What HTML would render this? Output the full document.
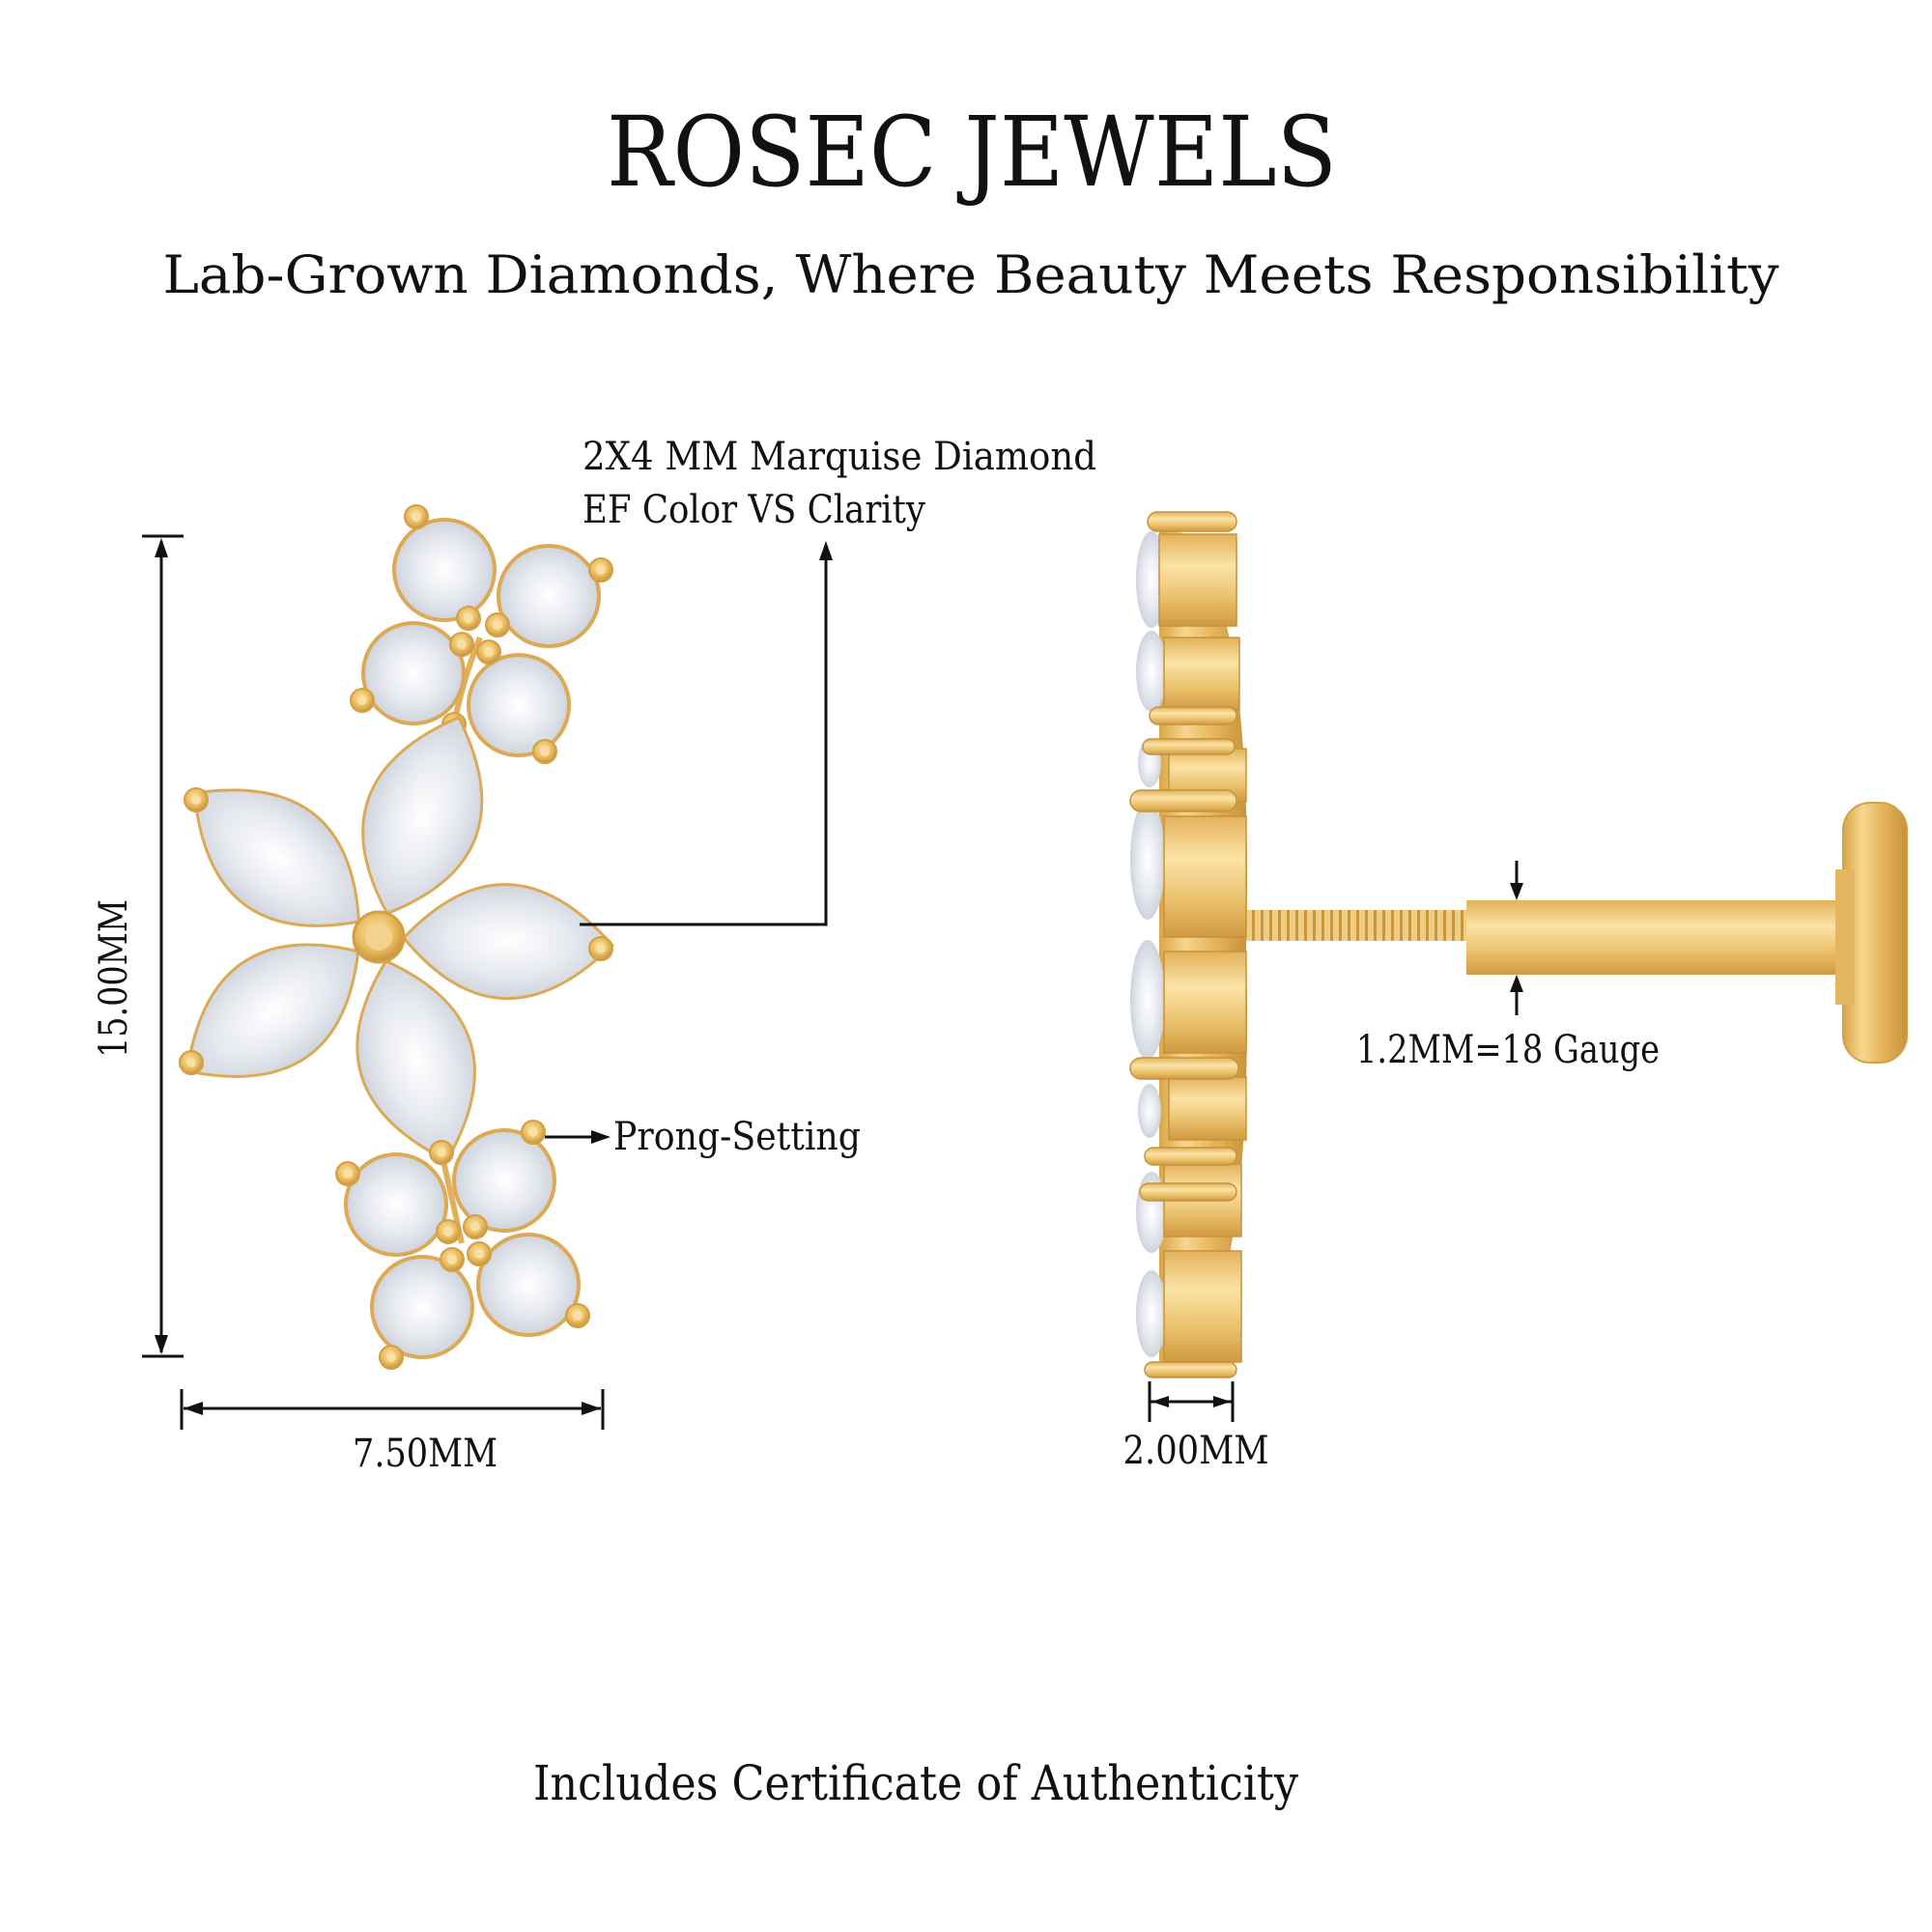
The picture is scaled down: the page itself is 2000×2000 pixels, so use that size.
<!DOCTYPE html>
<html><head><meta charset="utf-8"><style>
html,body{margin:0;padding:0;background:#fff;}
svg{display:block;}
text{font-family:"DejaVu Serif","Liberation Serif",serif;fill:#111;}
</style></head><body>
<svg width="2000" height="2000" viewBox="0 0 2000 2000" xmlns="http://www.w3.org/2000/svg">
<defs>
<radialGradient id="dia" cx="50%" cy="50%" r="60%">
<stop offset="0" stop-color="#ffffff"/><stop offset="0.5" stop-color="#e6e9ef"/><stop offset="1" stop-color="#c3c8d2"/>
</radialGradient>
<radialGradient id="bead" cx="45%" cy="40%" r="60%">
<stop offset="0" stop-color="#fbe3a8"/><stop offset="0.6" stop-color="#e9bd60"/><stop offset="1" stop-color="#c8923a"/>
</radialGradient>
<linearGradient id="goldH" x1="0" y1="0" x2="1" y2="0">
<stop offset="0" stop-color="#d9a648"/><stop offset="0.3" stop-color="#f6d68f"/><stop offset="0.6" stop-color="#e7b75d"/><stop offset="1" stop-color="#c9923a"/>
</linearGradient>
<linearGradient id="goldV" x1="0" y1="0" x2="0" y2="1">
<stop offset="0" stop-color="#e2b25a"/><stop offset="0.35" stop-color="#fbe3a6"/><stop offset="0.7" stop-color="#eac06a"/><stop offset="1" stop-color="#cf9a42"/>
</linearGradient>
<pattern id="thread" width="9" height="40" patternUnits="userSpaceOnUse">
<rect width="9" height="40" fill="#f0cd82"/><rect width="3" height="40" fill="#c99640"/>
</pattern>
<path id="petal" d="M 26 0 Q 130 -118 242 0 Q 130 118 26 0 Z"/>
<g id="pr"><circle r="12" fill="url(#bead)" stroke="#d49f45" stroke-width="2"/><circle r="5" fill="#f8dfa4"/></g>
</defs>

<text x="1006" y="192" font-size="100" text-anchor="middle" textLength="756" lengthAdjust="spacingAndGlyphs">ROSEC JEWELS</text>
<text x="1005" y="303" font-size="54" text-anchor="middle" textLength="1673" lengthAdjust="spacingAndGlyphs">Lab-Grown Diamonds, Where Beauty Meets Responsibility</text>

<!-- top small flower -->
<g stroke="#dcaa55" stroke-width="4" fill="url(#dia)">
<path d="M470 750 Q480 700 497 660" fill="none" stroke="#e0b05a" stroke-width="6"/>
<circle cx="460" cy="590" r="52"/><circle cx="568" cy="617" r="52"/>
<circle cx="428" cy="697" r="52"/><circle cx="537" cy="730" r="52"/>
</g>
<use href="#pr" x="431" y="535"/><use href="#pr" x="622" y="590"/><use href="#pr" x="375" y="725"/><use href="#pr" x="564" y="778"/><use href="#pr" x="470" y="750"/>
<use href="#pr" x="485" y="640"/><use href="#pr" x="515" y="647"/><use href="#pr" x="478" y="667"/><use href="#pr" x="506" y="675"/>

<!-- main flower -->
<g fill="url(#dia)" stroke="#dcaa55" stroke-width="3">
<use href="#petal" transform="translate(392 970) rotate(-142)"/>
<use href="#petal" transform="translate(392 970) rotate(145)"/>
<use href="#petal" transform="translate(392 970) rotate(2)"/>
<use href="#petal" transform="translate(392 970) rotate(-70)"/>
<use href="#petal" transform="translate(392 970) rotate(73)"/>
</g>
<circle cx="392" cy="970" r="26" fill="url(#bead)" stroke="#d49f45" stroke-width="3"/>
<circle cx="392" cy="970" r="14" fill="#f3d28e"/>
<use href="#pr" x="203" y="828"/><use href="#pr" x="198" y="1100"/><use href="#pr" x="622" y="982"/>

<!-- bottom small flower -->
<g stroke="#dcaa55" stroke-width="4" fill="url(#dia)">
<path d="M457 1193 Q470 1250 478 1287" fill="none" stroke="#e0b05a" stroke-width="6"/>
<circle cx="410" cy="1247" r="52"/><circle cx="522" cy="1222" r="52"/>
<circle cx="437" cy="1353" r="52"/><circle cx="547" cy="1330" r="52"/>
</g>
<use href="#pr" x="360" y="1215"/><use href="#pr" x="552" y="1172"/><use href="#pr" x="405" y="1405"/><use href="#pr" x="598" y="1362"/><use href="#pr" x="457" y="1193"/>
<use href="#pr" x="464" y="1275"/><use href="#pr" x="492" y="1270"/><use href="#pr" x="468" y="1304"/><use href="#pr" x="496" y="1298"/>

<!-- leaders -->
<g stroke="#111" stroke-width="3" fill="none">
<polyline points="600,957 855,957 855,575"/>
<line x1="167" y1="560" x2="167" y2="1400"/>
<line x1="147" y1="555" x2="190" y2="555"/><line x1="147" y1="1404" x2="190" y2="1404"/>
<line x1="190" y1="1458" x2="622" y2="1458"/>
<line x1="188" y1="1438" x2="188" y2="1480"/><line x1="624" y1="1438" x2="624" y2="1480"/>
<line x1="564" y1="1177" x2="615" y2="1177"/>
<line x1="1190" y1="1451" x2="1276" y2="1451"/>
<line x1="1190" y1="1430" x2="1190" y2="1472"/><line x1="1276" y1="1430" x2="1276" y2="1472"/>
<line x1="1570" y1="891" x2="1570" y2="925"/><line x1="1570" y1="1016" x2="1570" y2="1051"/>
</g>
<g fill="#111">
<polygon points="855,560 848,580 862,580"/>
<polygon points="167,557 160,577 174,577"/><polygon points="167,1402 160,1382 174,1382"/>
<polygon points="190,1458 210,1451 210,1465"/><polygon points="622,1458 602,1451 602,1465"/>
<polygon points="632,1177 612,1170 612,1184"/>
<polygon points="1192,1451 1210,1445 1210,1457"/><polygon points="1274,1451 1256,1445 1256,1457"/>
<polygon points="1570,932 1563,914 1577,914"/><polygon points="1570,1009 1563,1027 1577,1027"/>
</g>

<text x="603" y="486" font-size="40" textLength="532" lengthAdjust="spacingAndGlyphs">2X4 MM Marquise Diamond</text>
<text x="603" y="541" font-size="40" textLength="355" lengthAdjust="spacingAndGlyphs">EF Color VS Clarity</text>
<text x="635" y="1190" font-size="40" textLength="256" lengthAdjust="spacingAndGlyphs">Prong-Setting</text>
<text x="0" y="0" font-size="40" text-anchor="middle" textLength="164" lengthAdjust="spacingAndGlyphs" transform="translate(131 1013) rotate(-90)">15.00MM</text>
<text x="440" y="1518" font-size="40" text-anchor="middle" textLength="150" lengthAdjust="spacingAndGlyphs">7.50MM</text>
<text x="1238" y="1515" font-size="40" text-anchor="middle" textLength="151" lengthAdjust="spacingAndGlyphs">2.00MM</text>
<text x="1404" y="1100" font-size="40" textLength="314" lengthAdjust="spacingAndGlyphs">1.2MM=18 Gauge</text>
<text x="948" y="1863" font-size="50" text-anchor="middle" textLength="792" lengthAdjust="spacingAndGlyphs">Includes Certificate of Authenticity</text>

<!-- side view -->
<g>
<rect x="1289" y="942" width="232" height="32" fill="url(#thread)"/>
<rect x="1518" y="932" width="405" height="77" fill="url(#goldV)"/>
<rect x="1908" y="831" width="66" height="269" rx="28" fill="url(#goldH)" stroke="#d3a04a" stroke-width="2"/>
<rect x="1900" y="900" width="20" height="140" fill="#e4b662"/>
<path d="M1200 540 Q1300 560 1290 980 Q1300 1400 1200 1420 Z" fill="url(#goldH)"/>
<g fill="url(#dia)">
<ellipse cx="1192" cy="600" rx="16" ry="50"/><ellipse cx="1192" cy="695" rx="16" ry="42"/>
<ellipse cx="1190" cy="790" rx="12" ry="25"/><ellipse cx="1188" cy="890" rx="18" ry="62"/>
<ellipse cx="1188" cy="1035" rx="18" ry="62"/><ellipse cx="1190" cy="1150" rx="12" ry="28"/>
<ellipse cx="1192" cy="1255" rx="16" ry="42"/><ellipse cx="1192" cy="1360" rx="16" ry="45"/>
</g>
<g fill="url(#goldV)" stroke="#c8923a" stroke-width="1.5">
<rect x="1200" y="553" width="80" height="95"/><rect x="1205" y="660" width="78" height="75"/>
<rect x="1210" y="775" width="80" height="55"/><rect x="1205" y="845" width="85" height="125"/>
<rect x="1205" y="985" width="85" height="105"/><rect x="1210" y="1115" width="80" height="65"/>
<rect x="1205" y="1205" width="80" height="75"/><rect x="1205" y="1295" width="80" height="115"/>
</g>
<g fill="url(#goldV)" stroke="#c8923a" stroke-width="1.5">
<rect x="1188" y="530" width="92" height="20" rx="10"/><rect x="1190" y="732" width="90" height="18" rx="9"/>
<rect x="1183" y="765" width="95" height="16" rx="8"/><rect x="1170" y="818" width="110" height="22" rx="11"/>
<rect x="1170" y="1095" width="112" height="22" rx="11"/><rect x="1185" y="1188" width="95" height="18" rx="9"/>
<rect x="1180" y="1225" width="100" height="18" rx="9"/><rect x="1185" y="1410" width="95" height="16" rx="8"/>
</g>
</g>
</svg>
</body></html>
